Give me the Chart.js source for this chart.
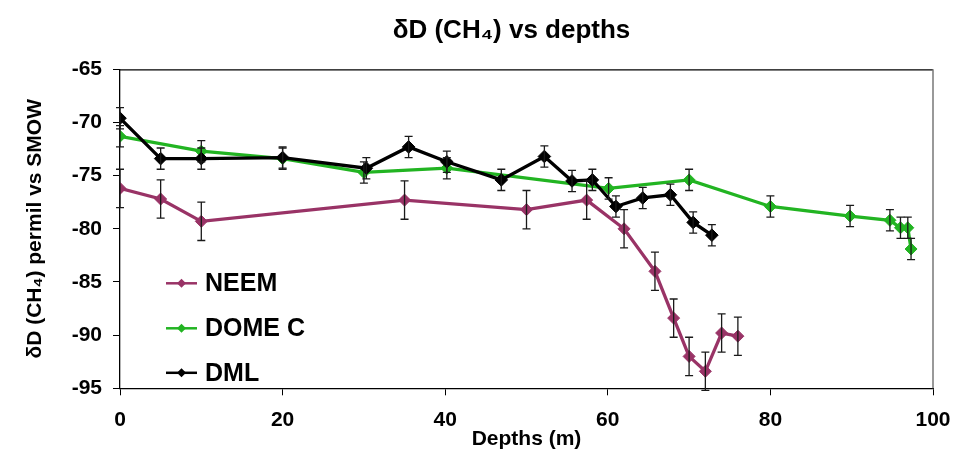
<!DOCTYPE html>
<html>
<head>
<meta charset="utf-8">
<script src="https://cdn.jsdelivr.net/npm/chart.js@4.4.1/dist/chart.umd.min.js"></script>
<style>
  html, body { margin: 0; padding: 0; background: #ffffff; }
  #wrap { width: 958px; height: 461px; }
</style>
</head>
<body>
<div id="wrap"><canvas id="c" width="958" height="461"></canvas></div>
<script>
// ---- data ----
const seriesNames = ['NEEM', 'DOME C', 'DML'];

const neemDepth = [0, 5, 10, 35, 50, 57.4, 62, 65.8, 68.1, 70, 72, 74, 76];
const neemValue = [-76.2, -77.2, -79.3, -77.3, -78.2, -77.3, -80.0, -84.0, -88.4, -92.0, -93.4, -89.8, -90.1];
const neemError = [1.8, 1.8, 1.8, 1.8, 1.8, 1.8, 1.8, 1.8, 1.8, 1.8, 1.8, 1.8, 1.8];

const domeDepth = [0, 10, 20, 30, 40.2, 60.1, 70, 80, 89.8, 94.7, 96, 96.9, 97.3];
const domeValue = [-71.3, -72.7, -73.4, -74.7, -74.3, -76.2, -75.4, -77.9, -78.8, -79.2, -79.9, -79.9, -81.9];
const domeError = [1.0, 1.0, 1.0, 1.0, 1.0, 1.0, 1.0, 1.0, 1.0, 1.0, 1.0, 1.0, 1.0];

const dmlDepth = [0, 5, 10, 20, 30.3, 35.5, 40.2, 46.9, 52.2, 55.6, 58.1, 61.0, 64.3, 67.7, 70.5, 72.8];
const dmlValue = [-69.6, -73.4, -73.4, -73.3, -74.3, -72.3, -73.7, -75.4, -73.2, -75.5, -75.4, -77.9, -77.1, -76.8, -79.4, -80.6];
const dmlError = [1.0, 1.0, 1.0, 1.0, 1.0, 1.0, 1.0, 1.0, 1.0, 1.0, 1.0, 1.0, 1.0, 1.0, 1.0, 1.0];

const xTickValues = [0, 20, 40, 60, 80, 100];
const yTickValues = [-95, -90, -85, -80, -75, -70, -65];

const chartTitle = 'δD (CH₄) vs depths';
const xTitle = 'Depths (m)';
const yTitle = 'δD (CH₄) permil vs SMOW';

// ---- styling ----
const FONT = "'Liberation Sans', Arial, Helvetica, sans-serif";
const colors = ['#993366', '#22B422', '#000000'];

function pts(xs, ys) { return xs.map((x, i) => ({ x: x, y: ys[i] })); }

const seriesX = [neemDepth, domeDepth, dmlDepth];
const seriesY = [neemValue, domeValue, dmlValue];
const seriesErr = [neemError, domeError, dmlError];
const drawOrder = [1, 2, 0];

const datasets = seriesNames.map((name, i) => ({
  label: name,
  data: pts(seriesX[i], seriesY[i]),
  errors: seriesErr[i],
  showLine: true,
  borderColor: colors[i],
  backgroundColor: colors[i],
  borderWidth: 3.3,
  pointStyle: 'rectRot',
  pointRadius: i === 2 ? 6.3 : 6,
  pointBorderWidth: 1,
  pointBorderColor: colors[i],
  pointBackgroundColor: colors[i],
  tension: 0,
  order: drawOrder[i]
}));

// error bars drawn from the data through the chart's scales
const errorBars = {
  id: 'errorBars',
  afterDatasetsDraw(chart) {
    const ctx = chart.ctx;
    const xs = chart.scales.x, ys = chart.scales.y;
    ctx.save();
    ctx.strokeStyle = '#1a1a1a';
    ctx.lineWidth = 1.3;
    chart.data.datasets.forEach((ds) => {
      ds.data.forEach((p, j) => {
        const e = ds.errors[j];
        const px = xs.getPixelForValue(p.x);
        const yt = ys.getPixelForValue(p.y + e);
        const yb = ys.getPixelForValue(p.y - e);
        ctx.beginPath();
        ctx.moveTo(px, yt); ctx.lineTo(px, yb);
        ctx.moveTo(px - 4, yt); ctx.lineTo(px + 4, yt);
        ctx.moveTo(px - 4, yb); ctx.lineTo(px + 4, yb);
        ctx.stroke();
      });
    });
    ctx.restore();
  }
};

// plot frame top + right
const frame = {
  id: 'frame',
  beforeDatasetsDraw(chart) {
    const a = chart.chartArea, ctx = chart.ctx;
    ctx.save();
    ctx.lineWidth = 1.2;
    ctx.strokeStyle = '#000000';
    ctx.beginPath();
    ctx.moveTo(a.left, a.top + 0.5); ctx.lineTo(a.right, a.top + 0.5);
    ctx.stroke();
    ctx.strokeStyle = '#777777';
    ctx.lineWidth = 1.5;
    ctx.beginPath();
    ctx.moveTo(a.right, a.top); ctx.lineTo(a.right, a.bottom);
    ctx.stroke();
    ctx.restore();
  }
};

// legend inside the plot area (line + diamond + label)
const insideLegend = {
  id: 'insideLegend',
  afterDraw(chart) {
    const ctx = chart.ctx, a = chart.chartArea;
    const x0 = a.left + 46, x1 = a.left + 77, tx = a.left + 85;
    const ys = [a.top + 214, a.top + 259, a.top + 303.5];
    ctx.save();
    chart.data.datasets.forEach((ds, i) => {
      const y = ys[i];
      ctx.strokeStyle = ds.borderColor;
      ctx.lineWidth = 2.5;
      ctx.beginPath(); ctx.moveTo(x0, y); ctx.lineTo(x1, y); ctx.stroke();
      const cx = (x0 + x1) / 2, r = 4.5;
      ctx.fillStyle = ds.borderColor;
      ctx.beginPath();
      ctx.moveTo(cx - r, y); ctx.lineTo(cx, y - r); ctx.lineTo(cx + r, y); ctx.lineTo(cx, y + r);
      ctx.closePath(); ctx.fill();
      ctx.fillStyle = '#000000';
      ctx.font = 'bold 25px ' + FONT;
      ctx.textBaseline = 'middle';
      ctx.textAlign = 'left';
      ctx.fillText(ds.label, tx, y + 1);
    });
    ctx.restore();
  }
};

new Chart(document.getElementById('c'), {
  type: 'scatter',
  data: { datasets: datasets },
  options: {
    responsive: false,
    animation: false,
    layout: { padding: { left: 15, right: -50, top: 0, bottom: 0 } },
    plugins: {
      legend: { display: false },
      tooltip: { enabled: false },
      title: {
        display: true,
        text: chartTitle,
        color: '#000000',
        font: { family: FONT, size: 26, weight: 'bold', lineHeight: 1.25 },
        padding: { top: 15, bottom: 21.8 }
      }
    },
    scales: {
      x: {
        type: 'linear',
        position: 'bottom',
        min: 0, max: 100,
        afterBuildTicks(s) { s.ticks = xTickValues.map(v => ({ value: v })); },
        afterFit(s) { s.height = 72.7; s.paddingLeft = 0; s.paddingRight = 0; },
        grid: { drawOnChartArea: false, drawTicks: true, tickLength: 7, color: '#000000', lineWidth: 1 },
        border: { display: true, color: '#000000', width: 1.3 },
        ticks: { color: '#000000', padding: 12, font: { family: FONT, size: 21, weight: 'bold' } },
        title: { display: true, text: xTitle, color: '#000000', padding: { top: 0, bottom: 9.4 },
                 font: { family: FONT, size: 21, weight: 'bold', lineHeight: 1.2 } }
      },
      y: {
        type: 'linear',
        position: 'left',
        min: -95, max: -65,
        afterBuildTicks(s) { s.ticks = yTickValues.map(v => ({ value: v })); },
        afterFit(s) { s.width = 105; },
        grid: { drawOnChartArea: false, drawTicks: true, tickLength: 7, color: '#000000', lineWidth: 1 },
        border: { display: true, color: '#000000', width: 1.3 },
        ticks: { color: '#000000', padding: 11, font: { family: FONT, size: 21, weight: 'bold' } },
        title: { display: true, text: yTitle, color: '#000000', padding: { top: 8, bottom: 0 },
                 font: { family: FONT, size: 21, weight: 'bold', lineHeight: 1.2 } }
      },
      ySpacer: {
        type: 'linear',
        position: 'right',
        min: 0, max: 1,
        afterFit(s) { s.width = 75; },
        grid: { display: false, drawTicks: false },
        border: { display: false },
        ticks: { display: false }
      }
    }
  },
  plugins: [frame, errorBars, insideLegend]
});
</script>
</body>
</html>
